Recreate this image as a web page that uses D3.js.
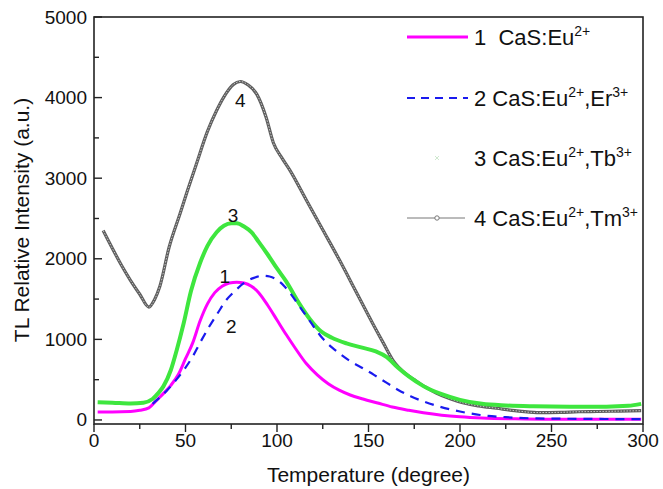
<!DOCTYPE html>
<meta charset="utf-8">
<script src="https://d3js.org/d3.v7.min.js"></script>
<style>
  body { margin: 0; background: #fff; }
  text { font-family: "Liberation Sans", Arial, sans-serif; fill: #111; }
</style>
<div id="my_dataviz"></div>
<script>

    // curve 1 CaS:Eu2+
    var temp1 = [2, 10, 20, 25, 30, 34, 38, 42, 46, 50, 54, 58, 62, 66, 70, 74, 78, 82, 86, 90, 95, 100, 105, 110, 116, 122, 128, 134, 140, 147, 155, 163, 172, 180, 190, 200, 212, 230, 250, 270, 299];
    var int1 = [100, 100, 105, 120, 150, 240, 330, 430, 560, 760, 960, 1230, 1440, 1580, 1660, 1700, 1710, 1700, 1660, 1580, 1420, 1240, 1060, 890, 700, 560, 450, 370, 310, 260, 210, 160, 120, 90, 60, 40, 25, 15, 10, 10, 10];

    // curve 2 CaS:Eu2+,Er3+
    var temp2 = [32, 36, 40, 45, 50, 54, 58, 63, 68, 72, 77, 82, 87, 92, 96, 100, 104, 108, 112, 116, 120, 125, 130, 135, 140, 147, 153, 160, 166, 173, 180, 189, 200, 211, 225, 240, 260, 280, 299];
    var int2 = [200, 280, 370, 500, 650, 790, 960, 1160, 1340, 1480, 1600, 1700, 1760, 1790, 1780, 1740, 1660, 1550, 1420, 1290, 1160, 1010, 900, 810, 730, 640, 560, 460, 375, 295, 230, 165, 105, 62, 35, 20, 15, 12, 10];

    // curve 3 CaS:Eu2+,Tb3+
    var temp3 = [2, 10, 20, 27, 32, 35, 38, 42, 45, 49, 53, 58, 62, 67, 71, 75, 78, 82, 86, 90, 95, 100, 105, 112, 118, 124, 130, 138, 146, 154, 160, 166, 172, 180, 190, 200, 212, 225, 240, 260, 280, 292, 299];
    var int3 = [220, 215, 205, 215, 260, 330, 420, 620, 850, 1200, 1600, 1950, 2160, 2330, 2410, 2440, 2440, 2400, 2330, 2210, 2050, 1880, 1720, 1450, 1250, 1100, 1020, 950, 900, 850, 780, 650, 540, 420, 320, 250, 200, 180, 170, 165, 165, 175, 200];

    // curve 4 CaS:Eu2+,Tm3+
    var temp4 = [5, 10, 15, 20, 25, 30, 33, 36, 41, 47, 51, 56, 62, 67, 71, 76, 80, 84, 89, 94, 98, 103, 107, 116, 125, 134, 143, 152, 158, 164, 170, 175, 181, 187, 195, 202, 210, 220, 230, 242, 255, 265, 275, 287, 299];
    var int4 = [2350, 2130, 1920, 1730, 1560, 1400, 1490, 1660, 2140, 2560, 2840, 3180, 3580, 3840, 4010, 4160, 4200, 4160, 4040, 3760, 3440, 3240, 3100, 2730, 2360, 1990, 1600, 1210, 960, 720, 580, 500, 410, 335, 260, 210, 175, 145, 115, 92, 95, 102, 105, 110, 115];

    var xTicks = [0, 50, 100, 150, 200, 250, 300];
    var yTicks = [0, 1000, 2000, 3000, 4000, 5000];

    var legendLabels = [
        {num: "1  ", parts: [["CaS:Eu", "2+"]]},
        {num: "2 ", parts: [["CaS:Eu", "2+"], [",Er", "3+"]]},
        {num: "3 ", parts: [["CaS:Eu", "2+"], [",Tb", "3+"]]},
        {num: "4 ", parts: [["CaS:Eu", "2+"], [",Tm", "3+"]]}
    ];

    // curve number labels placed in data units
    var curveLabels = [
        {t: "4", x: 80, y: 3970},
        {t: "3", x: 76, y: 2540},
        {t: "1", x: 71.5, y: 1780},
        {t: "2", x: 75, y: 1160}
    ];

    var W = 663, H = 489;
    var pL = 94, pR = 643, pT = 17, pB = 424;

    var svg = d3.select("#my_dataviz")
        .append("svg")
        .attr("width", W)
        .attr("height", H);

    var x = d3.scaleLinear().domain([0, 300]).range([pL, pR]);
    var y = d3.scaleLinear().domain([-50, 5000]).range([pB, pT]);

    function zip(t, v) { return t.map(function(d, i) { return [d, v[i]]; }); }

    var line = d3.line()
        .x(function(d) { return x(d[0]); })
        .y(function(d) { return y(d[1]); })
        .curve(d3.curveMonotoneX);

    var plot = svg.append("g");

    // curve 4 - gray with dense little markers
    plot.append("path").attr("d", line(zip(temp4, int4)))
        .attr("fill", "none").attr("stroke", "#5e5e5e").attr("stroke-width", 3.2);
    plot.append("path").attr("d", line(zip(temp4, int4)))
        .attr("fill", "none").attr("stroke", "#c8c8c8").attr("stroke-width", 1)
        .attr("stroke-dasharray", "1.5,1.5");

    // curve 3 - green
    plot.append("path").attr("d", line(zip(temp3, int3)))
        .attr("fill", "none").attr("stroke", "#3ee63e").attr("stroke-width", 4);

    // curve 1 - magenta
    plot.append("path").attr("d", line(zip(temp1, int1)))
        .attr("fill", "none").attr("stroke", "#ff00ff").attr("stroke-width", 3);

    // curve 2 - blue dashed
    plot.append("path").attr("d", line(zip(temp2, int2)))
        .attr("fill", "none").attr("stroke", "#1a1aee").attr("stroke-width", 2.2)
        .attr("stroke-dasharray", "9,7");

    // curve numbers
    svg.selectAll(".clab").data(curveLabels).enter().append("text")
        .attr("x", function(d) { return x(d.x); })
        .attr("y", function(d) { return y(d.y); })
        .attr("text-anchor", "middle")
        .attr("dominant-baseline", "central")
        .style("font-size", "19px")
        .text(function(d) { return d.t; });

    // frame
    svg.append("rect")
        .attr("x", pL).attr("y", pT)
        .attr("width", pR - pL).attr("height", pB - pT)
        .attr("fill", "none").attr("stroke", "#222").attr("stroke-width", 1.6);

    // x ticks (outward)
    var xMinor = d3.range(0, 301, 25);
    svg.selectAll(".xt").data(xMinor).enter().append("line")
        .attr("x1", function(d) { return x(d); }).attr("x2", function(d) { return x(d); })
        .attr("y1", pB)
        .attr("y2", function(d) { return d % 50 === 0 ? pB + 8 : pB + 5; })
        .attr("stroke", "#222").attr("stroke-width", 1.4);
    svg.selectAll(".xl").data(xTicks).enter().append("text")
        .attr("x", function(d) { return x(d); })
        .attr("y", 447)
        .attr("text-anchor", "middle")
        .style("font-size", "19px")
        .text(function(d) { return d; });

    // y ticks (inward)
    var yMinor = d3.range(0, 5001, 500);
    svg.selectAll(".yt").data(yMinor).enter().append("line")
        .attr("x1", pL)
        .attr("x2", function(d) { return d % 1000 === 0 ? pL + 8 : pL + 5; })
        .attr("y1", function(d) { return y(d); }).attr("y2", function(d) { return y(d); })
        .attr("stroke", "#222").attr("stroke-width", 1.4);
    svg.selectAll(".yl").data(yTicks).enter().append("text")
        .attr("x", 87)
        .attr("y", function(d) { return y(d); })
        .attr("text-anchor", "end")
        .attr("dominant-baseline", "central")
        .style("font-size", "19px")
        .text(function(d) { return d; });

    // axis titles
    svg.append("text")
        .attr("x", (pL + pR) / 2)
        .attr("y", 482)
        .attr("text-anchor", "middle")
        .style("font-size", "21px")
        .text("Temperature (degree)");
    svg.append("text")
        .attr("transform", "translate(29,220) rotate(-90)")
        .attr("text-anchor", "middle")
        .style("font-size", "21px")
        .text("TL Relative Intensity (a.u.)");

    // legend
    var rowY = [37, 98, 158, 218];
    var lg = svg.append("g");
    lg.append("line").attr("x1", 407).attr("x2", 468).attr("y1", rowY[0]).attr("y2", rowY[0])
        .attr("stroke", "#ff00ff").attr("stroke-width", 3);
    lg.append("line").attr("x1", 407).attr("x2", 468).attr("y1", rowY[1]).attr("y2", rowY[1])
        .attr("stroke", "#1a1aee").attr("stroke-width", 2).attr("stroke-dasharray", "8,6");
    lg.append("path").attr("d", "M435,156 l4,4 M439,156 l-4,4")
        .attr("stroke", "#cfe8cf").attr("stroke-width", 1);
    lg.append("line").attr("x1", 407).attr("x2", 465).attr("y1", rowY[3]).attr("y2", rowY[3])
        .attr("stroke", "#777").attr("stroke-width", 1);
    lg.append("circle").attr("cx", 437).attr("cy", rowY[3]).attr("r", 2.2)
        .attr("fill", "#fff").attr("stroke", "#777").attr("stroke-width", 1);

    legendLabels.forEach(function(l, i) {
        var t = lg.append("text")
            .attr("x", 474)
            .attr("y", rowY[i] + 8)
            .style("font-size", "22px")
            .style("white-space", "pre");
        t.append("tspan").text(l.num);
        l.parts.forEach(function(p, j) {
            t.append("tspan").attr("dy", j > 0 ? 9 : 0).text(p[0]);
            t.append("tspan").attr("dy", -9).style("font-size", "14px").text(p[1]);
        });
    });

</script>
